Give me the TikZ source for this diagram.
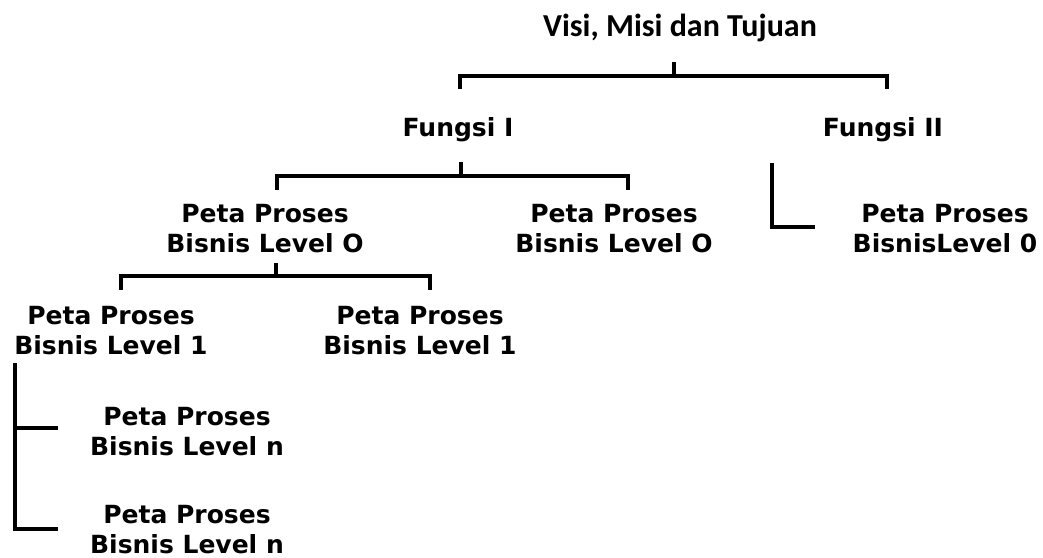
\documentclass[tikz,border=0pt]{standalone}
\usepackage{fontspec}
\setmainfont{DejaVu Sans}
\newfontfamily\titlefont{Carlito}
\tikzset{
  lvl/.style={font=\fontsize{25}{30}\selectfont\bfseries,align=center,inner sep=0pt,anchor=base},
  ttl/.style={font=\titlefont\fontsize{32}{36}\selectfont\bfseries,inner sep=0pt,anchor=base},
  brk/.style={line width=4.5pt}
}
\begin{document}
\begin{tikzpicture}[x=1pt,y=-1pt]
  \useasboundingbox (0,0) rectangle (1043,557);
  \node[ttl] (visi) at (680,36) {Visi, Misi dan Tujuan};
  \node[lvl] (f1) at (458,136) {Fungsi I};
  \node[lvl] (f2) at (883,136) {Fungsi II};
  \node[lvl] (p0a) at (265,252) {Peta Proses\\Bisnis Level O};
  \node[lvl] (p0b) at (614,252) {Peta Proses\\Bisnis Level O};
  \node[lvl] (p0c) at (945,252) {Peta Proses\\BisnisLevel 0};
  \node[lvl] (p1a) at (111,354) {Peta Proses\\Bisnis Level 1};
  \node[lvl] (p1b) at (420,354) {Peta Proses\\Bisnis Level 1};
  \node[lvl] (pna) at (187,455) {Peta Proses\\Bisnis Level n};
  \node[lvl] (pnb) at (187,553) {Peta Proses\\Bisnis Level n};
  % brackets
  \coordinate (vs) at (674,62);
  \coordinate (la) at (460,89);
  \coordinate (ra) at (887,89);
  \draw[brk] (la) -- ++(0,-13) -| (ra);
  \draw[brk] (vs) -- ++(0,14);
  \coordinate (fs) at (461,162);
  \coordinate (lb) at (277,190);
  \coordinate (rb) at (628,190);
  \draw[brk] (lb) -- ++(0,-14) -| (rb);
  \draw[brk] (fs) -- ++(0,14);
  \coordinate (ps) at (276,263);
  \coordinate (lc) at (121,290);
  \coordinate (rc) at (430,290);
  \draw[brk] (lc) -- ++(0,-14) -| (rc);
  \draw[brk] (ps) -- ++(0,13);
  \coordinate (gs) at (772,163);
  \coordinate (ge) at (815,227);
  \draw[brk] (gs) |- (ge);
  \coordinate (bs) at (15,363);
  \coordinate (na) at (58,428);
  \coordinate (nb) at (58,529);
  \draw[brk] (bs) |- (nb);
  \draw[brk] (bs |- na) -- (na);
\end{tikzpicture}
\end{document}
